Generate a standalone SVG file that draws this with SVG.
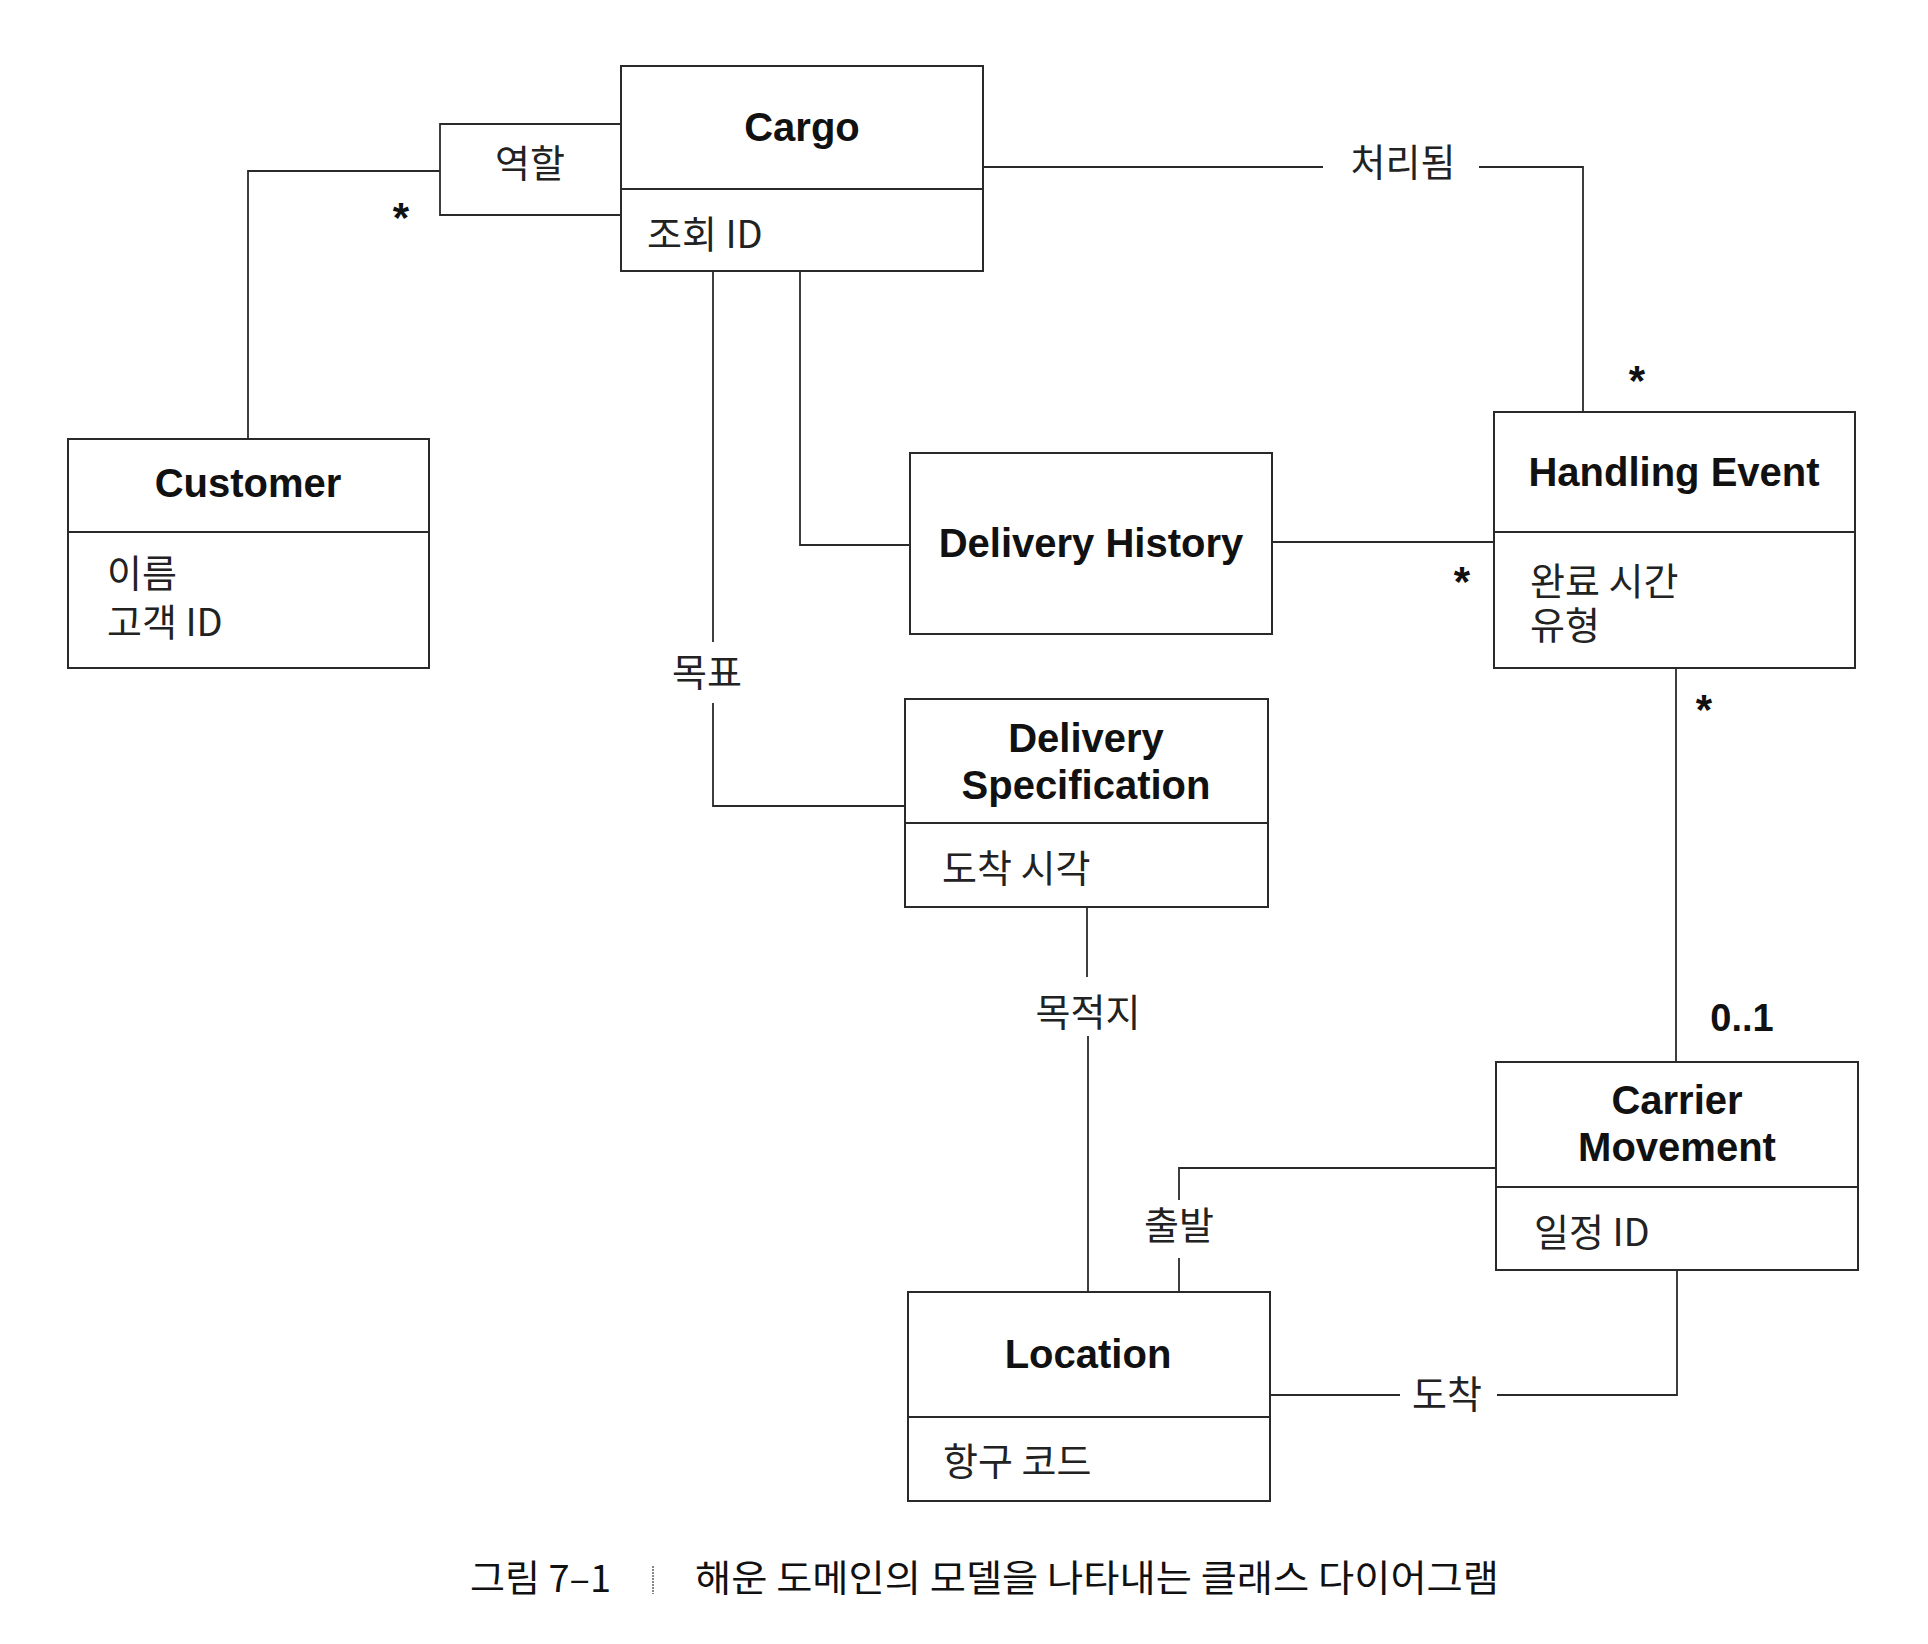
<svg xmlns="http://www.w3.org/2000/svg" width="1928" height="1644" viewBox="0 0 1928 1644">
<style>
.box{fill:#fff;stroke:#2a2a2a;stroke-width:2}
.div{stroke:#2a2a2a;stroke-width:2}
.ln{fill:none;stroke:#2a2a2a;stroke-width:1.8}
.title{font-family:"Liberation Sans",Arial,sans-serif;font-weight:bold;font-size:40px;fill:#111;text-anchor:middle}
.attr{font-family:"Noto Sans CJK KR","Noto Sans",sans-serif;font-size:38px;fill:#222}
.lbl{font-family:"Noto Sans CJK KR","Noto Sans",sans-serif;font-size:38px;fill:#222;text-anchor:middle}
.mult{font-family:"Liberation Sans",Arial,sans-serif;font-weight:bold;font-size:42px;fill:#111;text-anchor:middle}
.cap{font-family:"Noto Sans CJK KR","Noto Sans",sans-serif;font-size:37px;fill:#111}
</style>
<rect width="1928" height="1644" fill="#fff"/>
<g id="connectors">
<path class="ln" d="M248,439 V171 H440"/>
<path class="ln" d="M621,124 H440 V215 H621"/>
<path class="ln" d="M983,167 H1323"/>
<path class="ln" d="M1479,167 H1583 V412"/>
<path class="ln" d="M800,271 V545 H910"/>
<path class="ln" d="M713,271 V642"/>
<path class="ln" d="M713,703 V806 H905"/>
<path class="ln" d="M1272,542 H1494"/>
<path class="ln" d="M1676,668 V1062"/>
<path class="ln" d="M1087,907 V977"/>
<path class="ln" d="M1088,1036 V1292"/>
<path class="ln" d="M1496,1168 H1179 V1200"/>
<path class="ln" d="M1179,1258 V1292"/>
<path class="ln" d="M1270,1395 H1400"/>
<path class="ln" d="M1497,1395 H1677 V1270"/>
<text class="lbl" x="530" y="177">역할</text>
<text class="lbl" x="1403" y="176">처리됨</text>
<text class="lbl" x="707" y="686">목표</text>
<text class="lbl" x="1088" y="1026">목적지</text>
<text class="lbl" x="1179" y="1239">출발</text>
<text class="lbl" x="1447" y="1408">도착</text>
<text class="mult" x="401" y="232">*</text>
<text class="mult" x="1637" y="395">*</text>
<text class="mult" x="1462" y="596">*</text>
<text class="mult" x="1704" y="724">*</text>
<text class="mult" x="1742" y="1031" style="font-size:38px">0..1</text>
</g>
<g id="cargo">
<rect class="box" x="621" y="66" width="362" height="205"/>
<line class="div" x1="621" y1="189" x2="983" y2="189"/>
<text class="title" x="802" y="141">Cargo</text>
<text class="attr" x="647" y="248">조회 ID</text>
</g>
<g id="customer">
<rect class="box" x="68" y="439" width="361" height="229"/>
<line class="div" x1="68" y1="532" x2="429" y2="532"/>
<text class="title" x="248" y="497">Customer</text>
<text class="attr"><tspan x="107" y="587">이름</tspan><tspan x="107" y="636">고객 ID</tspan></text>
</g>
<g id="handling-event">
<rect class="box" x="1494" y="412" width="361" height="256"/>
<line class="div" x1="1494" y1="532" x2="1855" y2="532"/>
<text class="title" x="1674" y="486">Handling Event</text>
<text class="attr"><tspan x="1530" y="595">완료 시간</tspan><tspan x="1530" y="639">유형</tspan></text>
</g>
<g id="delivery-history">
<rect class="box" x="910" y="453" width="362" height="181"/>
<text class="title" x="1091" y="557">Delivery History</text>
</g>
<g id="delivery-specification">
<rect class="box" x="905" y="699" width="363" height="208"/>
<line class="div" x1="905" y1="823" x2="1268" y2="823"/>
<text class="title"><tspan x="1086" y="752">Delivery</tspan><tspan x="1086" y="799">Specification</tspan></text>
<text class="attr" x="942" y="882">도착 시각</text>
</g>
<g id="location">
<rect class="box" x="908" y="1292" width="362" height="209"/>
<line class="div" x1="908" y1="1417" x2="1270" y2="1417"/>
<text class="title" x="1088" y="1368">Location</text>
<text class="attr" x="943" y="1475">항구 코드</text>
</g>
<g id="carrier-movement">
<rect class="box" x="1496" y="1062" width="362" height="208"/>
<line class="div" x1="1496" y1="1187" x2="1858" y2="1187"/>
<text class="title"><tspan x="1677" y="1114">Carrier</tspan><tspan x="1677" y="1161">Movement</tspan></text>
<text class="attr" x="1534" y="1246">일정 ID</text>
</g>
<g id="caption">
<text class="cap" x="470" y="1592" textLength="141" lengthAdjust="spacingAndGlyphs">그림 7–1</text>
<line x1="653" y1="1566" x2="653" y2="1594" stroke="#888" stroke-width="2" stroke-dasharray="2,1"/>
<text class="cap" x="695" y="1592" textLength="804" lengthAdjust="spacingAndGlyphs">해운 도메인의 모델을 나타내는 클래스 다이어그램</text>
</g>
</svg>
